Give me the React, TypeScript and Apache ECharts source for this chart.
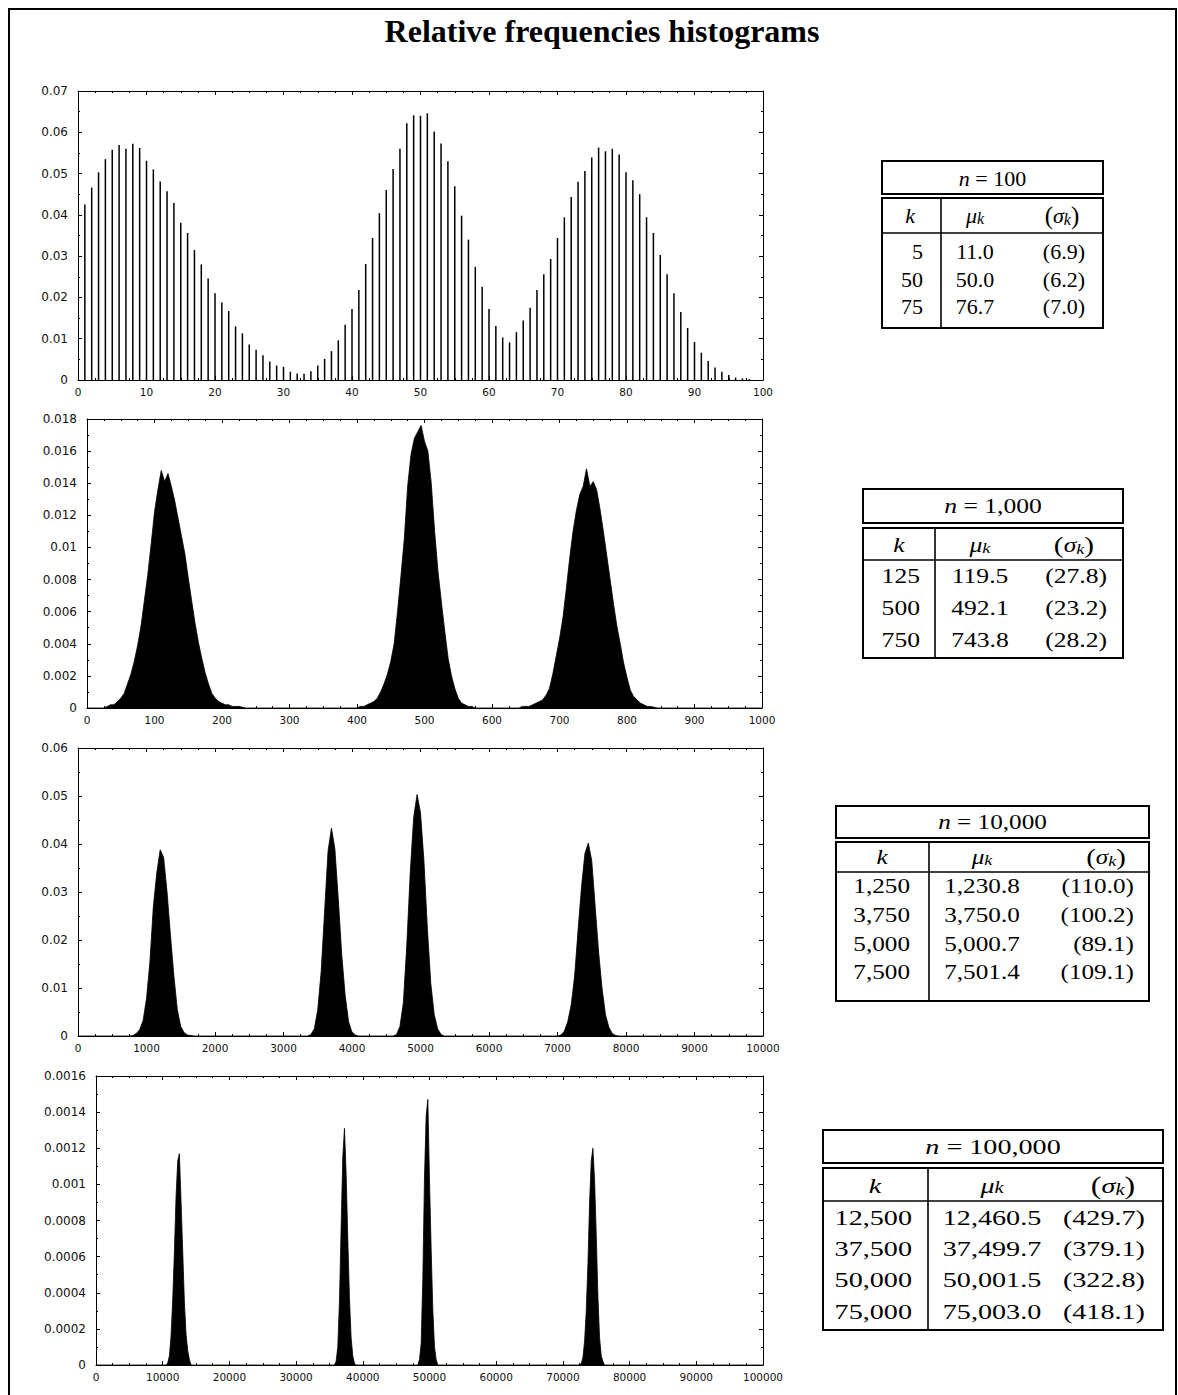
import { useEffect, useRef } from "react";
import * as echarts from "echarts";

const TITLE = "Relative frequencies histograms";

// ---------- Panel 1: n = 100 (one bar per integer) ----------
const P1_X = [
  1, 2, 3, 4, 5, 6, 7, 8, 9, 10, 11, 12, 13, 14, 15, 16, 17, 18, 19, 20,
  21, 22, 23, 24, 25, 26, 27, 28, 29, 30, 31, 32, 33, 34, 35, 36, 37, 38, 39, 40,
  41, 42, 43, 44, 45, 46, 47, 48, 49, 50, 51, 52, 53, 54, 55, 56, 57, 58, 59, 60,
  61, 62, 63, 64, 65, 66, 67, 68, 69, 70, 71, 72, 73, 74, 75, 76, 77, 78, 79, 80,
  81, 82, 83, 84, 85, 86, 87, 88, 89, 90, 91, 92, 93, 94, 95, 96, 97, 98,
];
const P1_Y = [
  0.0425, 0.0466, 0.0503, 0.0535, 0.0558, 0.0569, 0.056, 0.0572, 0.0562, 0.0531,
  0.051, 0.0481, 0.0457, 0.0429, 0.0381, 0.0356, 0.0315, 0.028, 0.0246, 0.021,
  0.0188, 0.0167, 0.013, 0.0113, 0.0086, 0.0073, 0.006, 0.0045, 0.0035, 0.0032,
  0.002, 0.0016, 0.0015, 0.0021, 0.0035, 0.0051, 0.007, 0.0096, 0.0134, 0.0172,
  0.0218, 0.0281, 0.0344, 0.0404, 0.046, 0.0511, 0.056, 0.0622, 0.0641, 0.064,
  0.0646, 0.0602, 0.0573, 0.053, 0.0469, 0.0398, 0.034, 0.0274, 0.0226, 0.0172,
  0.0131, 0.0103, 0.0091, 0.0116, 0.0144, 0.0175, 0.0218, 0.0256, 0.0293, 0.0344,
  0.0394, 0.0443, 0.048, 0.0506, 0.0539, 0.0563, 0.0554, 0.056, 0.0546, 0.0503,
  0.0484, 0.045, 0.0394, 0.0356, 0.0303, 0.0256, 0.021, 0.0165, 0.0126, 0.0092,
  0.0066, 0.0046, 0.003, 0.002, 0.0012, 0.0006, 0.0004, 0.0002,
];

// ---------- Panel 2: n = 1,000 (bins of 5) ----------
const P2_BIN = 5;
const P2_PEAK1_START = 30;
const P2_PEAK1 = [
  0.0001, 0.0002, 0.0002, 0.0004, 0.0006, 0.0009, 0.0015, 0.0021, 0.0029, 0.0039,
  0.0051, 0.0067, 0.0083, 0.0102, 0.0122, 0.0136, 0.0148, 0.0141, 0.0146, 0.0138,
  0.0129, 0.0118, 0.0107, 0.0096, 0.0081, 0.0067, 0.0053, 0.0041, 0.0031, 0.0022,
  0.0015, 0.0009, 0.0006, 0.0004, 0.0003, 0.0002, 0.0002, 0.0001, 0.0001, 0.0001,
  0.00005,
];
const P2_PEAK2_START = 405;
const P2_PEAK2 = [
  0.0001, 0.0001, 0.0002, 0.0003, 0.0004, 0.0006, 0.001, 0.0015, 0.0021, 0.0029,
  0.004, 0.006, 0.0082, 0.0105, 0.0138, 0.0158, 0.0168, 0.0172, 0.0176, 0.0166,
  0.016, 0.014, 0.011, 0.0085, 0.0066, 0.0048, 0.0031, 0.002, 0.0012, 0.0006,
  0.0003, 0.0002, 0.0001, 0.0001,
];
const P2_PEAK3_START = 645;
const P2_PEAK3 = [
  0.0001, 0.0001, 0.0001, 0.0002, 0.0003, 0.0004, 0.0005, 0.0008, 0.0012, 0.0021,
  0.0032, 0.0043, 0.0056, 0.0074, 0.0093, 0.011, 0.0123, 0.0133, 0.0138, 0.0149,
  0.0138, 0.0141, 0.0136, 0.0124, 0.011, 0.0095, 0.008, 0.0065, 0.0051, 0.004,
  0.0028, 0.0019, 0.0011, 0.0007, 0.0005, 0.0003, 0.0002, 0.0001, 0.0001, 0.00005,
];

// ---------- Panel 3: n = 10,000 (bins of 50) ----------
const P3_BIN = 50;
const P3_PEAK1_START = 800;
const P3_PEAK1 = [
  0.0001, 0.0005, 0.0013, 0.0032, 0.0078, 0.0155, 0.027, 0.034, 0.0388, 0.0372,
  0.03, 0.021, 0.0125, 0.0055, 0.002, 0.0007, 0.0002, 0.0001,
];
const P3_PEAK2_START = 3400;
const P3_PEAK2 = [
  0.0003, 0.0015, 0.0055, 0.0135, 0.026, 0.0385, 0.0433, 0.039, 0.0285, 0.017,
  0.0085, 0.003, 0.0008, 0.0002,
];
const P3_PEAK3_START = 4650;
const P3_PEAK3 = [
  0.0003, 0.002, 0.007, 0.019, 0.034, 0.0455, 0.0503, 0.0465, 0.0365, 0.0225,
  0.011, 0.0045, 0.0015, 0.0003,
];
const P3_PEAK4_START = 7050;
const P3_PEAK4 = [
  0.0002, 0.001, 0.003, 0.0065, 0.0125, 0.022, 0.031, 0.038, 0.0402, 0.0365,
  0.027, 0.0175, 0.01, 0.0045, 0.0018, 0.0005, 0.0001,
];

// ---------- Panel 4: n = 100,000 (bins of 250) ----------
const P4_BIN = 250;
const P4_PEAK1_START = 10750;
const P4_PEAK1 = [
  0.00001, 0.00005, 0.00016, 0.00036, 0.00062, 0.00093, 0.00113, 0.00117, 0.00091,
  0.00063, 0.00035, 0.00017, 0.00008, 0.00003,
];
const P4_PEAK2_START = 36000;
const P4_PEAK2 = [
  0.00002, 0.0001, 0.00035, 0.00076, 0.00115, 0.00131, 0.00106, 0.0007, 0.00037,
  0.00015, 0.00005, 0.00001,
];
const P4_PEAK3_START = 48500;
const P4_PEAK3 = [
  0.00003, 0.00012, 0.00048, 0.00104, 0.00138, 0.00147, 0.00102, 0.00064, 0.0003,
  0.0001, 0.00003,
];
const P4_PEAK4_START = 72750;
const P4_PEAK4 = [
  0.00001, 0.00004, 0.00013, 0.0003, 0.00056, 0.0009, 0.00113, 0.0012, 0.00102,
  0.00072, 0.00038, 0.00015, 0.00005, 0.00002,
];

// ---------- Axis ranges ----------
const X_MAX = [100, 1000, 10000, 100000];
const Y_MAX = [0.07, 0.018, 0.06, 0.0016];
const Y_STEP = [0.01, 0.002, 0.01, 0.0002];

// ---------- Tables ----------
const T1_N = "100";
const T1_K = ["5", "50", "75"];
const T1_MU = ["11.0", "50.0", "76.7"];
const T1_SIGMA = ["(6.9)", "(6.2)", "(7.0)"];

const T2_N = "1,000";
const T2_K = ["125", "500", "750"];
const T2_MU = ["119.5", "492.1", "743.8"];
const T2_SIGMA = ["(27.8)", "(23.2)", "(28.2)"];

const T3_N = "10,000";
const T3_K = ["1,250", "3,750", "5,000", "7,500"];
const T3_MU = ["1,230.8", "3,750.0", "5,000.7", "7,501.4"];
const T3_SIGMA = ["(110.0)", "(100.2)", "(89.1)", "(109.1)"];

const T4_N = "100,000";
const T4_K = ["12,500", "37,500", "50,000", "75,000"];
const T4_MU = ["12,460.5", "37,499.7", "50,001.5", "75,003.0"];
const T4_SIGMA = ["(429.7)", "(379.1)", "(322.8)", "(418.1)"];

// ---------- Layout (pixels) ----------
const GRIDS = [
  { left: 78, top: 91, width: 685, height: 289 },
  { left: 87, top: 419, width: 675, height: 289 },
  { left: 78, top: 748, width: 685, height: 288 },
  { left: 96, top: 1076, width: 667, height: 289 },
];

type TLayout = {
  x0: number; x1: number; hTop: number; hBot: number; bTop: number; bBot: number;
  divX: number; hline: number; headY: number; labY: number; rows: number[];
  kHead: number; kRight: number; mu: number; sHead: number; sRight: number;
  fs: number; sx: number;
};

const T_LAYOUT: TLayout[] = [
  { x0: 882, x1: 1103, hTop: 161, hBot: 194, bTop: 198, bBot: 328, divX: 941, hline: 233,
    headY: 178, labY: 215, rows: [251, 279, 306], kHead: 910, kRight: 923, mu: 975,
    sHead: 1062, sRight: 1085, fs: 22, sx: 1.0 },
  { x0: 863, x1: 1123, hTop: 489, hBot: 523, bTop: 528, bBot: 658, divX: 935, hline: 560,
    headY: 506, labY: 545, rows: [576, 608, 640], kHead: 899, kRight: 920, mu: 980,
    sHead: 1074, sRight: 1107, fs: 21, sx: 1.22 },
  { x0: 836, x1: 1149, hTop: 806, hBot: 838, bTop: 842, bBot: 1001, divX: 929, hline: 872,
    headY: 822, labY: 857, rows: [886, 915, 944, 972], kHead: 882, kRight: 910, mu: 982,
    sHead: 1106, sRight: 1134, fs: 21, sx: 1.2 },
  { x0: 823, x1: 1163, hTop: 1130, hBot: 1163, bTop: 1168, bBot: 1330, divX: 928, hline: 1201,
    headY: 1146, labY: 1185, rows: [1217, 1248, 1279, 1311], kHead: 875, kRight: 912, mu: 992,
    sHead: 1113, sRight: 1145, fs: 22, sx: 1.28 },
];

const SERIF = "'Liberation Serif', 'Times New Roman', serif";
const SANS = "'DejaVu Sans', 'Liberation Sans', sans-serif";

function buildCurve(range: number, bin: number, peaks: { start: number; values: number[] }[]) {
  const pts: number[][] = [[0, 0]];
  for (const p of peaks) {
    pts.push([p.start - bin, 0]);
    p.values.forEach((v, i) => pts.push([p.start + i * bin, v]));
    pts.push([p.start + p.values.length * bin, 0]);
  }
  pts.push([range, 0]);
  return pts;
}

const fmt = (v: number) => String(+Number(v).toPrecision(8));

function tableGraphic(t: TLayout, n: string, ks: string[], mus: string[], sigmas: string[]) {
  const ch: any[] = [];
  const box = { fill: "#fff", stroke: "#000", lineWidth: 2 };
  ch.push({ type: "rect", shape: { x: t.x0, y: t.hTop, width: t.x1 - t.x0, height: t.hBot - t.hTop }, style: box });
  ch.push({ type: "rect", shape: { x: t.x0, y: t.bTop, width: t.x1 - t.x0, height: t.bBot - t.bTop }, style: box });
  ch.push({ type: "line", shape: { x1: t.divX, y1: t.bTop, x2: t.divX, y2: t.bBot }, style: { stroke: "#000", lineWidth: 1.6 } });
  ch.push({ type: "line", shape: { x1: t.x0, y1: t.hline, x2: t.x1, y2: t.hline }, style: { stroke: "#000", lineWidth: 1.6 } });
  const rich = {
    r: { fontFamily: SERIF, fontSize: t.fs, fill: "#000", verticalAlign: "middle" },
    p: { fontFamily: SERIF, fontSize: Math.round(t.fs * 1.12), fill: "#000", verticalAlign: "middle" },
    i: { fontFamily: SERIF, fontSize: t.fs, fontStyle: "italic", fill: "#000", verticalAlign: "middle" },
    s: { fontFamily: SERIF, fontSize: Math.round(t.fs * 0.72), fontStyle: "italic", fill: "#000", verticalAlign: "bottom" },
  };
  const txt = (x: number, y: number, text: string, align: string) => ({
    type: "text",
    x,
    y,
    scaleX: t.sx,
    style: {
      text,
      rich,
      fontFamily: SERIF,
      fontSize: t.fs,
      fill: "#000",
      textAlign: align,
      align,
      textVerticalAlign: "middle",
      verticalAlign: "middle",
    },
  });
  const cx = (t.x0 + t.x1) / 2;
  ch.push(txt(cx, t.headY, `{i|n}{r| = ${n}}`, "center"));
  ch.push(txt(t.kHead, t.labY, "{i|k}", "center"));
  ch.push(txt(t.mu, t.labY, "{i|μ}{s|k}", "center"));
  ch.push(txt(t.sHead, t.labY, "{p|(}{i|σ}{s|k}{p|)}", "center"));
  ks.forEach((k, i) => {
    ch.push(txt(t.kRight, t.rows[i], `{r|${k}}`, "right"));
    ch.push(txt(t.mu, t.rows[i], `{r|${mus[i]}}`, "center"));
    ch.push(txt(t.sRight, t.rows[i], `{r|${sigmas[i]}}`, "right"));
  });
  return { type: "group", children: ch };
}

export default function App() {
  const ref = useRef<HTMLDivElement>(null);
  useEffect(() => {
    document.body.style.margin = "0";
    if (!ref.current) return;
    const chart = echarts.init(ref.current, undefined, { renderer: "svg" });

    const p2 = buildCurve(X_MAX[1], P2_BIN, [
      { start: P2_PEAK1_START, values: P2_PEAK1 },
      { start: P2_PEAK2_START, values: P2_PEAK2 },
      { start: P2_PEAK3_START, values: P2_PEAK3 },
    ]);
    const p3 = buildCurve(X_MAX[2], P3_BIN, [
      { start: P3_PEAK1_START, values: P3_PEAK1 },
      { start: P3_PEAK2_START, values: P3_PEAK2 },
      { start: P3_PEAK3_START, values: P3_PEAK3 },
      { start: P3_PEAK4_START, values: P3_PEAK4 },
    ]);
    const p4 = buildCurve(X_MAX[3], P4_BIN, [
      { start: P4_PEAK1_START, values: P4_PEAK1 },
      { start: P4_PEAK2_START, values: P4_PEAK2 },
      { start: P4_PEAK3_START, values: P4_PEAK3 },
      { start: P4_PEAK4_START, values: P4_PEAK4 },
    ]);

    const black = { color: "#000", width: 1 };
    const xAxes: any[] = [];
    const yAxes: any[] = [];
    GRIDS.forEach((_, gi) => {
      const base = {
        type: "value",
        gridIndex: gi,
        min: 0,
        splitLine: { show: false },
        axisLine: { show: true, onZero: false, lineStyle: black },
        axisTick: { show: true, inside: true, length: 4, lineStyle: black },
      };
      const xb = {
        ...base,
        max: X_MAX[gi],
        interval: X_MAX[gi] / 10,
        minorTick: { show: true, splitNumber: 4, length: 2, lineStyle: black },
      };
      xAxes.push({
        ...xb,
        position: "bottom",
        axisLabel: { show: true, fontFamily: SANS, fontSize: 10.5, color: "#111", margin: 6, formatter: fmt },
      });
      xAxes.push({ ...xb, position: "top", axisLabel: { show: false } });
      const yb = {
        ...base,
        max: Y_MAX[gi],
        interval: Y_STEP[gi],
        minorTick: { show: true, splitNumber: 2, length: 2, lineStyle: black },
      };
      yAxes.push({
        ...yb,
        position: "left",
        axisLabel: { show: true, fontFamily: SANS, fontSize: 12, color: "#111", margin: 10, formatter: fmt },
      });
      yAxes.push({ ...yb, position: "right", axisLabel: { show: false } });
    });

    const areaSeries = (gi: number, data: number[][]) => ({
      type: "line",
      xAxisIndex: gi * 2,
      yAxisIndex: gi * 2,
      data,
      symbol: "none",
      lineStyle: { color: "#000", width: 0.8 },
      areaStyle: { color: "#000", opacity: 1 },
      silent: true,
    });

    chart.setOption({
      animation: false,
      backgroundColor: "#fff",
      grid: GRIDS.map((g) => ({ ...g, containLabel: false })),
      xAxis: xAxes,
      yAxis: yAxes,
      series: [
        {
          type: "bar",
          xAxisIndex: 0,
          yAxisIndex: 0,
          data: P1_X.map((x, i) => [x, P1_Y[i]]),
          barWidth: 1.5,
          itemStyle: { color: "#000" },
          silent: true,
        },
        areaSeries(1, p2),
        areaSeries(2, p3),
        areaSeries(3, p4),
      ],
      graphic: [
        {
          type: "rect",
          shape: { x: 9, y: 9, width: 1167, height: 1400 },
          style: { fill: "none", stroke: "#000", lineWidth: 2 },
          silent: true,
        },
        {
          type: "text",
          x: 602,
          y: 31,
          style: {
            text: TITLE,
            fontFamily: SERIF,
            fontWeight: "bold",
            fontSize: 32,
            fill: "#000",
            textAlign: "center",
            align: "center",
            textVerticalAlign: "middle",
            verticalAlign: "middle",
          },
        },
        tableGraphic(T_LAYOUT[0], T1_N, T1_K, T1_MU, T1_SIGMA),
        tableGraphic(T_LAYOUT[1], T2_N, T2_K, T2_MU, T2_SIGMA),
        tableGraphic(T_LAYOUT[2], T3_N, T3_K, T3_MU, T3_SIGMA),
        tableGraphic(T_LAYOUT[3], T4_N, T4_K, T4_MU, T4_SIGMA),
      ],
    });
    return () => chart.dispose();
  }, []);
  return <div ref={ref} style={{ width: 1178, height: 1395 }} />;
}
